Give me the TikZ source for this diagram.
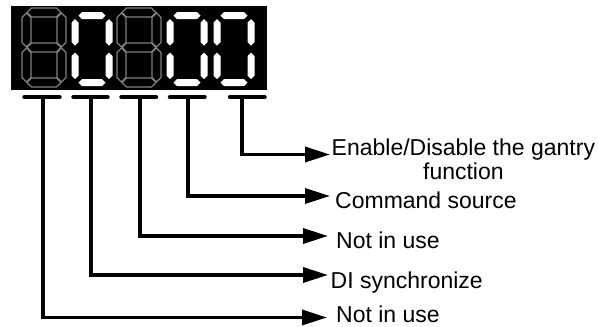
\documentclass[tikz,border=0pt]{standalone}
\usepackage{fontspec}
\setmainfont{Liberation Sans}
\usetikzlibrary{arrows.meta, positioning}

% one segment, lying or standing: style, first tip, second tip, position, thickness
\newcommand{\hseg}[5]{%
  \path[#1] ({#2},{#4}) -- ({#2+#5/2},{#4+#5/2}) -- ({#3-#5/2},{#4+#5/2}) -- ({#3},{#4})
    -- ({#3-#5/2},{#4-#5/2}) -- ({#2+#5/2},{#4-#5/2}) -- cycle;}
\newcommand{\vseg}[5]{%
  \path[#1] ({#2},{#3}) -- ({#2+#5/2},{#3-#5/2}) -- ({#2+#5/2},{#4+#5/2}) -- ({#2},{#4})
    -- ({#2-#5/2},{#4+#5/2}) -- ({#2-#5/2},{#3-#5/2}) -- cycle;}
% digit: style, left, top, width, height, thickness, gap, middle bar (1/0)
\newcommand{\segdigit}[8]{%
  \pgfmathsetmacro{\sgxl}{#2+#6/2}\pgfmathsetmacro{\sgxr}{#2+#4-#6/2}%
  \pgfmathsetmacro{\sgyt}{#3-#6/2}\pgfmathsetmacro{\sgym}{#3-#5/2}%
  \pgfmathsetmacro{\sgyb}{#3-#5+#6/2}%
  \hseg{#1}{\sgxl+#7}{\sgxr-#7}{\sgyt}{#6}
  \hseg{#1}{\sgxl+#7}{\sgxr-#7}{\sgyb}{#6}
  \vseg{#1}{\sgxl}{\sgyt-#7}{\sgym+#7}{#6}
  \vseg{#1}{\sgxr}{\sgyt-#7}{\sgym+#7}{#6}
  \vseg{#1}{\sgxl}{\sgym-#7}{\sgyb+#7}{#6}
  \vseg{#1}{\sgxr}{\sgym-#7}{\sgyb+#7}{#6}
  \ifnum#8=1 \hseg{#1}{\sgxl+#7}{\sgxr-#7}{\sgym}{#6}\fi}

\begin{document}
\begin{tikzpicture}[x=1pt, y=1pt,
    lbl/.style={font=\fontsize{23}{24}\selectfont, inner sep=0pt, align=center},
    lead/.style={-{Triangle[length=25pt, width=15pt]}, line width=3.5pt},
    bar/.style={line width=4.5pt, line cap=round},
    lit/.style={fill=white},
    unlit/.style={draw=gray, line width=1.1pt}]
    \useasboundingbox (0,0) rectangle (598,-327);
    % display
    \fill (11,-6) rectangle (267,-90);
    \segdigit{unlit}{22}{-8}{44}{79}{9}{0.5}{1}
    \segdigit{lit}{71.5}{-12}{41}{74}{7}{3.5}{0}
    \segdigit{unlit}{117}{-8}{44}{79}{9}{0.5}{1}
    \segdigit{lit}{166.5}{-12}{41}{74}{7}{3.5}{0}
    \segdigit{lit}{213.5}{-12}{41}{74}{7}{3.5}{0}
    % bars under the digits
    \draw[bar] (24.5,-97) -- (59.5,-97);
    \draw[bar] (73.5,-97) -- (107.5,-97);
    \draw[bar] (121.5,-97) -- (156,-97);
    \draw[bar] (170,-97) -- (204.5,-97);
    \draw[bar] (230,-97) -- (264.5,-97);
    \coordinate (s1) at (43,-97);
    \coordinate (s2) at (91,-97);
    \coordinate (s3) at (140,-97);
    \coordinate (s4) at (188,-97);
    \coordinate (s5) at (242,-97);
    % labels
    \node[lbl, anchor=west] (l5) at (331.5,-159) {Enable/Disable the gantry\\function};
    \node[lbl, anchor=base west] (l4) at (335,-208) {Command source};
    \node[lbl, anchor=base west] (l3) at (336,-248) {Not in use};
    \node[lbl, anchor=base west] (l2) at (330.5,-288) {DI synchronize};
    \node[lbl, anchor=base west] (l1) at (336,-322.5) {Not in use};
    \coordinate (t5) at (330,-154.5);
    \coordinate (t4) at (330,-196);
    \coordinate (t3) at (328,-236);
    \coordinate (t2) at (328,-275);
    \coordinate (t1) at (327,-317.5);
    \draw[lead] (s5) |- (t5);
    \draw[lead] (s4) |- (t4);
    \draw[lead] (s3) |- (t3);
    \draw[lead] (s2) |- (t2);
    \draw[lead] (s1) |- (t1);
\end{tikzpicture}
\end{document}
